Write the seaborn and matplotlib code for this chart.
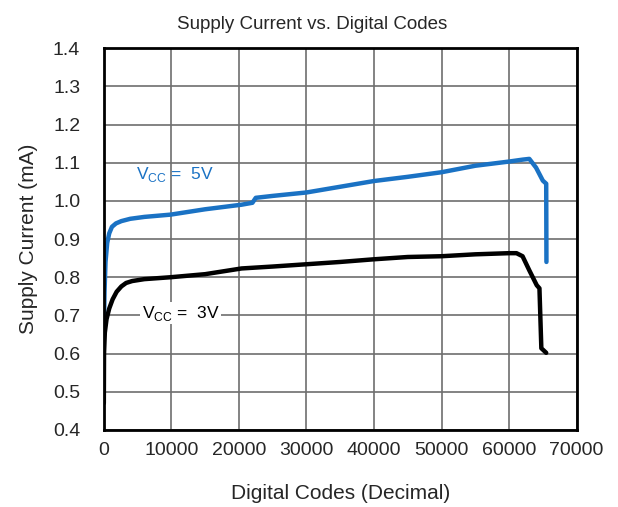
import matplotlib
matplotlib.use("Agg")
import matplotlib.pyplot as plt
import seaborn as sns
import pandas as pd

# Vcc = 5V curve (digital code, supply current in mA)
codes_5v = [0, 100, 250, 500, 800, 1200, 1800, 2600, 3900, 6000, 9900, 15000,
            20400, 22000, 22500, 25000, 30000, 35000, 40000, 45000, 50000, 55000,
            60000, 62000, 63000, 64000, 65000, 65500, 65535]
current_5v = [0.65, 0.76, 0.84, 0.89, 0.915, 0.932, 0.941, 0.947, 0.953, 0.958,
              0.964, 0.978, 0.99, 0.995, 1.008, 1.013, 1.022, 1.037, 1.052, 1.063,
              1.075, 1.092, 1.103, 1.108, 1.110, 1.087, 1.053, 1.045, 0.84]

# Vcc = 3V curve
codes_3v = [0, 30, 150, 400, 800, 1300, 1900, 2600, 3300, 4200, 6000, 9900,
            15000, 20400, 25000, 30000, 35000, 40000, 45000, 50000, 55000, 60000,
            61100, 62000, 63000, 64100, 64500, 64780, 65500]
current_3v = [0.47, 0.60, 0.655, 0.69, 0.718, 0.742, 0.762, 0.776, 0.785, 0.790,
              0.795, 0.800, 0.808, 0.823, 0.828, 0.834, 0.840, 0.847, 0.853, 0.855,
              0.860, 0.863, 0.863, 0.855, 0.818, 0.779, 0.771, 0.614, 0.602]

x_ticks = [0, 10000, 20000, 30000, 40000, 50000, 60000, 70000]
y_ticks = [0.4, 0.5, 0.6, 0.7, 0.8, 0.9, 1.0, 1.1, 1.2, 1.3, 1.4]

df5 = pd.DataFrame({"code": codes_5v, "current": current_5v})
df3 = pd.DataFrame({"code": codes_3v, "current": current_3v})

sns.set_style("white")
plt.rcParams["font.family"] = ["Liberation Sans", "DejaVu Sans"]
plt.rcParams["mathtext.fontset"] = "custom"
plt.rcParams["mathtext.rm"] = "Liberation Sans"

fig = plt.figure(figsize=(6.18, 5.07), dpi=100)
ax = fig.add_axes([0.168, 0.152, 0.765, 0.753])

sns.lineplot(data=df5, x="code", y="current", ax=ax, color="#1a72c4", lw=3.2,
             sort=False, estimator=None)
sns.lineplot(data=df3, x="code", y="current", ax=ax, color="black", lw=3.2,
             sort=False, estimator=None)

ax.set_xlim(0, 70000)
ax.set_ylim(0.4, 1.4)
ax.set_xticks(x_ticks)
ax.set_yticks(y_ticks)
ax.set_yticklabels([f"{v:.1f}" for v in y_ticks])
ax.grid(True, color="#6e6e6e", lw=1.2)
ax.set_axisbelow(True)
for s in ax.spines.values():
    s.set_color("black")
    s.set_linewidth(2)
ax.tick_params(axis="both", labelsize=14, length=0)
ax.tick_params(axis="y", pad=17)
ax.tick_params(axis="x", pad=9)

ax.set_xlabel("Digital Codes (Decimal)", fontsize=15, labelpad=18)
ax.set_ylabel("Supply Current (mA)", fontsize=15, labelpad=11)
# title sits centred on the figure, not the axes
ax.set_title("Supply Current vs. Digital Codes", fontsize=13.5, pad=14, x=0.44)

ax.text(4700, 1.068, r"V$_{\mathregular{CC}}$ =  5V", color="#1a72c4", fontsize=12.5,
        ha="left", va="center")
ax.text(5600, 0.706, r"V$_{\mathregular{CC}}$ =  3V", color="black", fontsize=12.5,
        ha="left", va="center",
        bbox=dict(facecolor="white", edgecolor="none", pad=1))

fig.savefig("out.png", dpi=100)
